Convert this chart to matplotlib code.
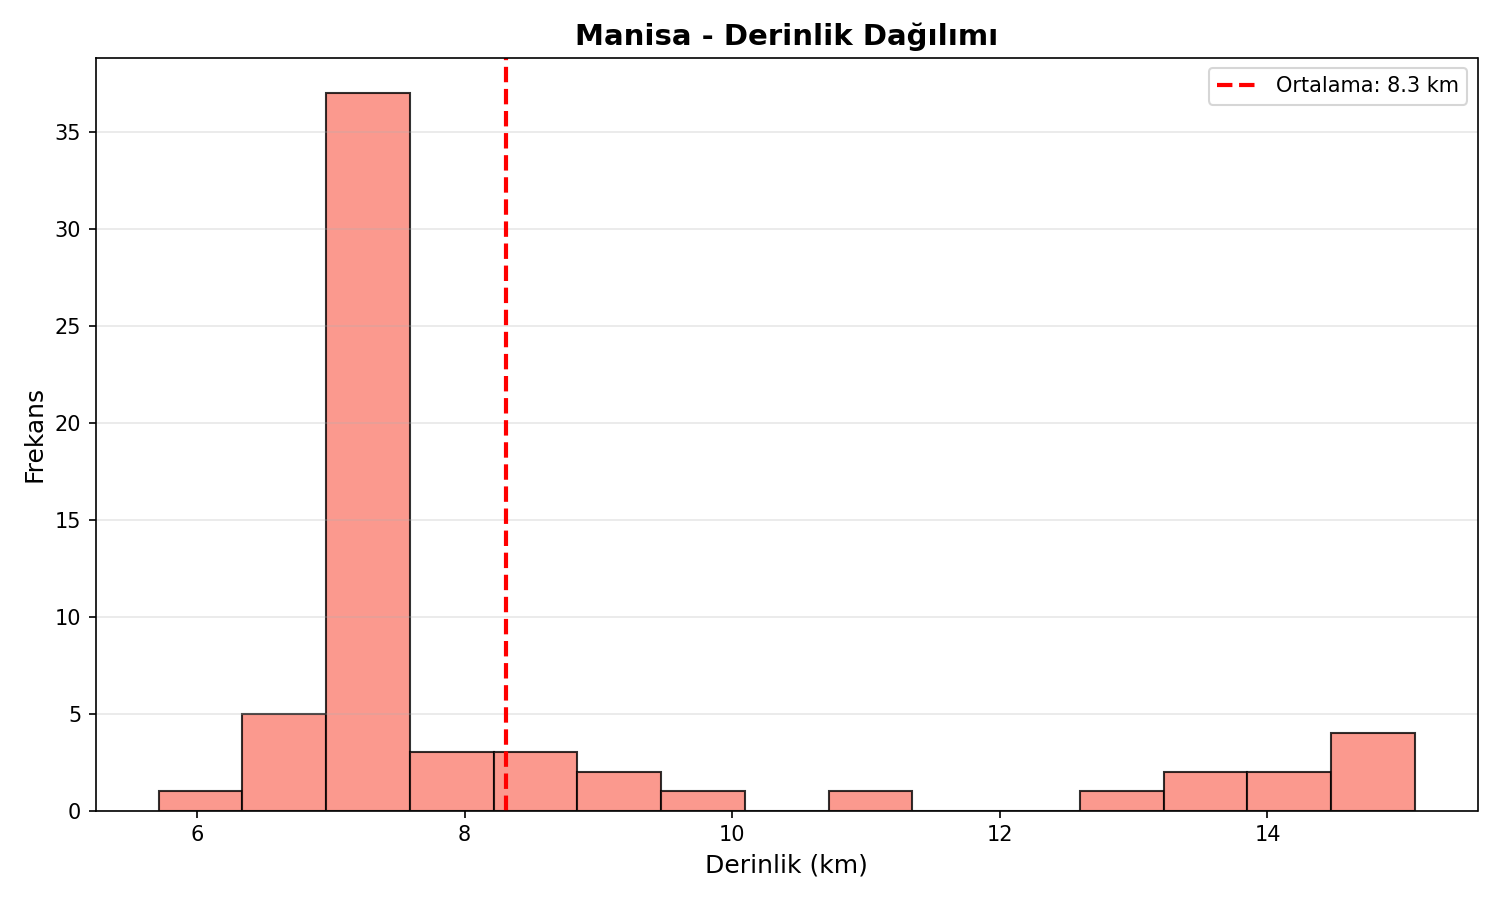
import numpy as np
import matplotlib.pyplot as plt

depth_min = 5.715
depth_max = 15.10
counts = [1, 5, 37, 3, 3, 2, 1, 0, 1, 0, 0, 1, 2, 2, 4]
mean_depth = 8.31

edges = np.linspace(depth_min, depth_max, len(counts) + 1)
centers = (edges[:-1] + edges[1:]) / 2

fig, ax = plt.subplots(figsize=(10, 6), dpi=150)
ax.hist(centers, bins=edges, weights=counts, color='salmon', alpha=0.8, edgecolor='black')
ax.axvline(mean_depth, color='red', linestyle='--', linewidth=2, label=f'Ortalama: {mean_depth:.1f} km')
ax.set_title('Manisa - Derinlik Dağılımı', fontsize=14, fontweight='bold')
ax.set_xlabel('Derinlik (km)', fontsize=12)
ax.set_ylabel('Frekans', fontsize=12)
ax.grid(axis='y', alpha=0.3)
ax.legend()
plt.tight_layout()
plt.savefig('out.png')
